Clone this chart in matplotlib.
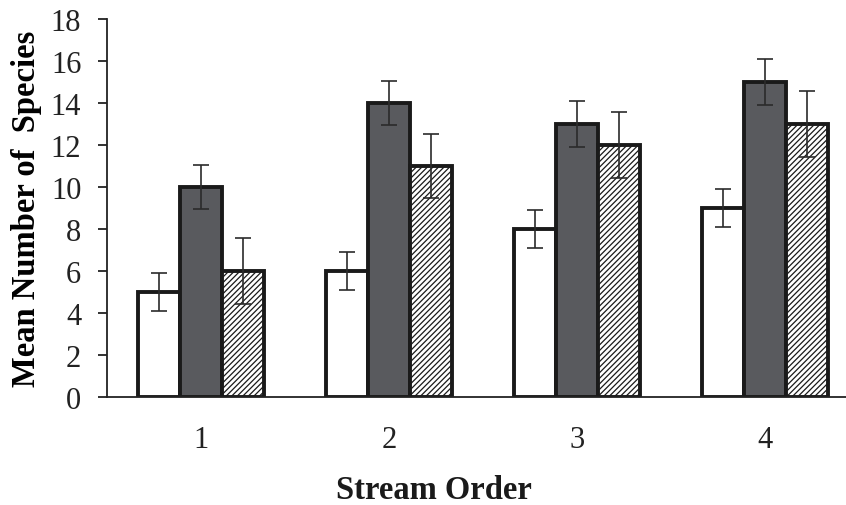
import matplotlib.pyplot as plt
import numpy as np

plt.rcParams['font.family'] = 'Liberation Serif'
plt.rcParams['hatch.linewidth'] = 0.9

# stream order groups
orders = ['1', '2', '3', '4']
# mean species counts for the three series
white_mean = [5, 6, 8, 9]
dark_mean = [10, 14, 13, 15]
hatch_mean = [6, 11, 12, 13]
# error bar half-lengths
white_err = [0.9, 0.9, 0.9, 0.9]
dark_err = [1.07, 1.05, 1.1, 1.1]
hatch_err = [1.55, 1.5, 1.55, 1.55]

fig = plt.figure(figsize=(8.46, 5.06), dpi=100)
ax = fig.add_axes([0.1265, 0.2134, 0.889, 0.7471])

x = np.arange(1, len(orders) + 1)
w = 0.224
ekw = dict(ecolor='#2b2b2b', elinewidth=1.2, capsize=6, capthick=1.2)

ax.bar(x - w, white_mean, w, color='white', edgecolor='#1a1a1a', linewidth=2.8,
       yerr=white_err, error_kw=ekw, zorder=2)
ax.bar(x, dark_mean, w, color='#595a5e', edgecolor='#1a1a1a', linewidth=2.8,
       yerr=dark_err, error_kw=ekw, zorder=2)
ax.bar(x + w, hatch_mean, w, color='white', edgecolor='#1a1a1a', linewidth=2.8,
       hatch='//////', yerr=hatch_err, error_kw=ekw, zorder=2)

ax.set_xlim(0.5, 4.5)
ax.set_ylim(0, 18)
ax.set_yticks(range(0, 19, 2))
ax.set_xticks(x)
ax.set_xticklabels(orders)
ax.tick_params(axis='x', length=0, labelsize=22, pad=20, colors='#222222')
ax.tick_params(axis='y', length=6.5, width=1.3, labelsize=22, pad=12, colors='#222222')

for s in ['top', 'right']:
    ax.spines[s].set_visible(False)
for s in ['left', 'bottom']:
    ax.spines[s].set_linewidth(1.3)
    ax.spines[s].set_color('#222222')

ax.set_ylabel('Mean Number of  Species', fontsize=23.5, fontweight='bold', labelpad=6)
fig.text(0.513, 0.014, 'Stream Order', fontsize=23.5, fontweight='bold',
         ha='center', va='baseline', color='#1a1a1a')

fig.savefig('out.png', dpi=100)
